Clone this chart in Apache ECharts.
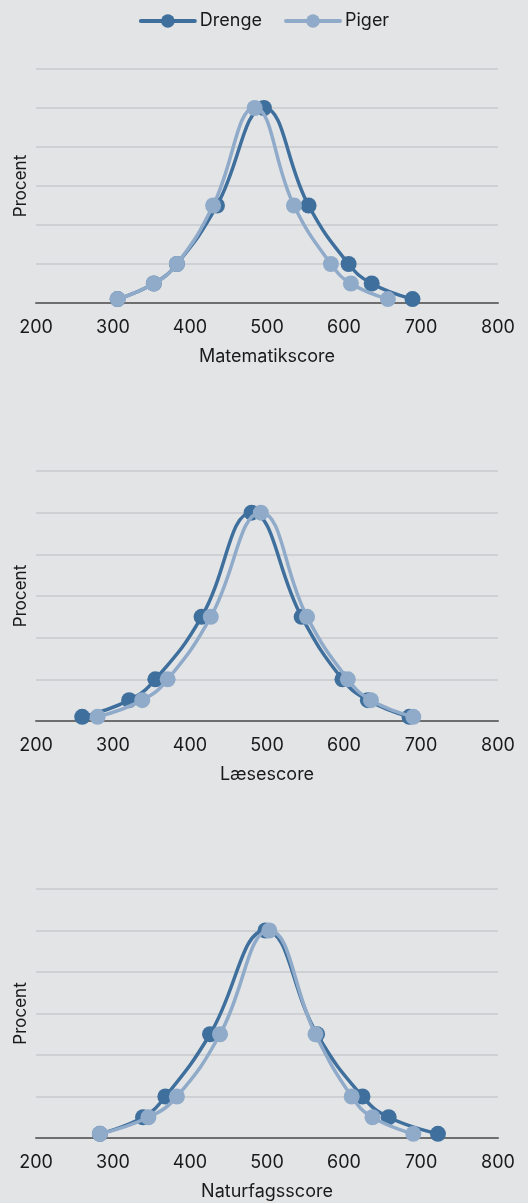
<!DOCTYPE html>
<html>
<head>
<meta charset="utf-8">
<script src="https://cdn.jsdelivr.net/npm/echarts@6/dist/echarts.min.js"></script>
<style>
  html, body { margin: 0; padding: 0; background: #e3e4e6; }
  #chart { width: 528px; height: 1203px; }
</style>
</head>
<body>
<div id="chart"></div>
<script>
// andel i procent ved hvert punkt (samme for alle kurver)
const percent = [1, 5, 10, 25, 50, 25, 10, 5, 1];

const mathBoys = [306, 353, 383, 435, 496, 554, 606, 636, 689];
const mathGirls = [306, 353, 383, 430, 484, 535, 583, 609, 657];

const readBoys = [260, 321, 355, 415, 480, 545, 598, 631, 685];
const readGirls = [280, 338, 371, 427, 492, 552, 605, 635, 690];

const sciBoys = [283, 339, 368, 426, 498, 565, 624, 658, 722];
const sciGirls = [283, 346, 383, 439, 503, 563, 610, 637, 690];

const subjects = ["Matematikscore", "Læsescore", "Naturfagsscore"];
const xTicks = [200, 300, 400, 500, 600, 700, 800];

const dark = "#3f6f9c";
const light = "#90abc9";
const font = "Inter, 'Noto Sans', sans-serif";

const grids = [
  { left: 36, right: 30, top: 69, height: 234 },
  { left: 36, right: 30, top: 471, height: 250 },
  { left: 36, right: 30, top: 889, height: 249 }
];

const pairs = (xs) => xs.map((x, i) => [x, percent[i]]);

const xAxes = subjects.map((name, i) => ({
  type: "value",
  gridIndex: i,
  min: xTicks[0],
  max: xTicks[xTicks.length - 1],
  interval: 100,
  name: name,
  nameLocation: "middle",
  nameGap: 45,
  nameTextStyle: { color: "#1a1a1a", fontSize: 18, fontFamily: font },
  axisLine: { show: true, onZero: false, lineStyle: { color: "#6e6e6e", width: 2 } },
  axisTick: { show: false },
  splitLine: { show: false },
  axisLabel: { color: "#1a1a1a", fontSize: 18, fontFamily: font, margin: 16 }
}));

const yAxes = subjects.map((_, i) => ({
  type: "value",
  gridIndex: i,
  min: 0,
  max: 60,
  interval: 10,
  name: "Procent",
  nameLocation: "middle",
  nameGap: 7,
  nameRotate: 90,
  nameTextStyle: { color: "#1a1a1a", fontSize: 17, fontFamily: font },
  axisLine: { show: false },
  axisTick: { show: false },
  axisLabel: { show: false },
  splitLine: { show: true, lineStyle: { color: "#c9cacc", width: 1.5 } }
}));

function line(name, color, data, idx) {
  return {
    name: name,
    type: "line",
    xAxisIndex: idx,
    yAxisIndex: idx,
    data: pairs(data),
    smooth: 0.45,
    symbol: "circle",
    symbolSize: 16,
    lineStyle: { color: color, width: 3.5 },
    itemStyle: { color: color },
    z: name === "Piger" ? 3 : 2
  };
}

const chart = echarts.init(document.getElementById("chart"));
chart.setOption({
  backgroundColor: "#e3e4e6",
  animation: false,
  legend: {
    top: 7,
    left: "center",
    itemWidth: 54,
    itemHeight: 17,
    itemGap: 22,
    lineStyle: { width: 4, cap: "round" },
    textStyle: { color: "#1a1a1a", fontSize: 18, fontFamily: font },
    data: ["Drenge", "Piger"]
  },
  grid: grids,
  xAxis: xAxes,
  yAxis: yAxes,
  series: [
    line("Drenge", dark, mathBoys, 0),
    line("Piger", light, mathGirls, 0),
    line("Drenge", dark, readBoys, 1),
    line("Piger", light, readGirls, 1),
    line("Drenge", dark, sciBoys, 2),
    line("Piger", light, sciGirls, 2)
  ]
});
</script>
</body>
</html>
